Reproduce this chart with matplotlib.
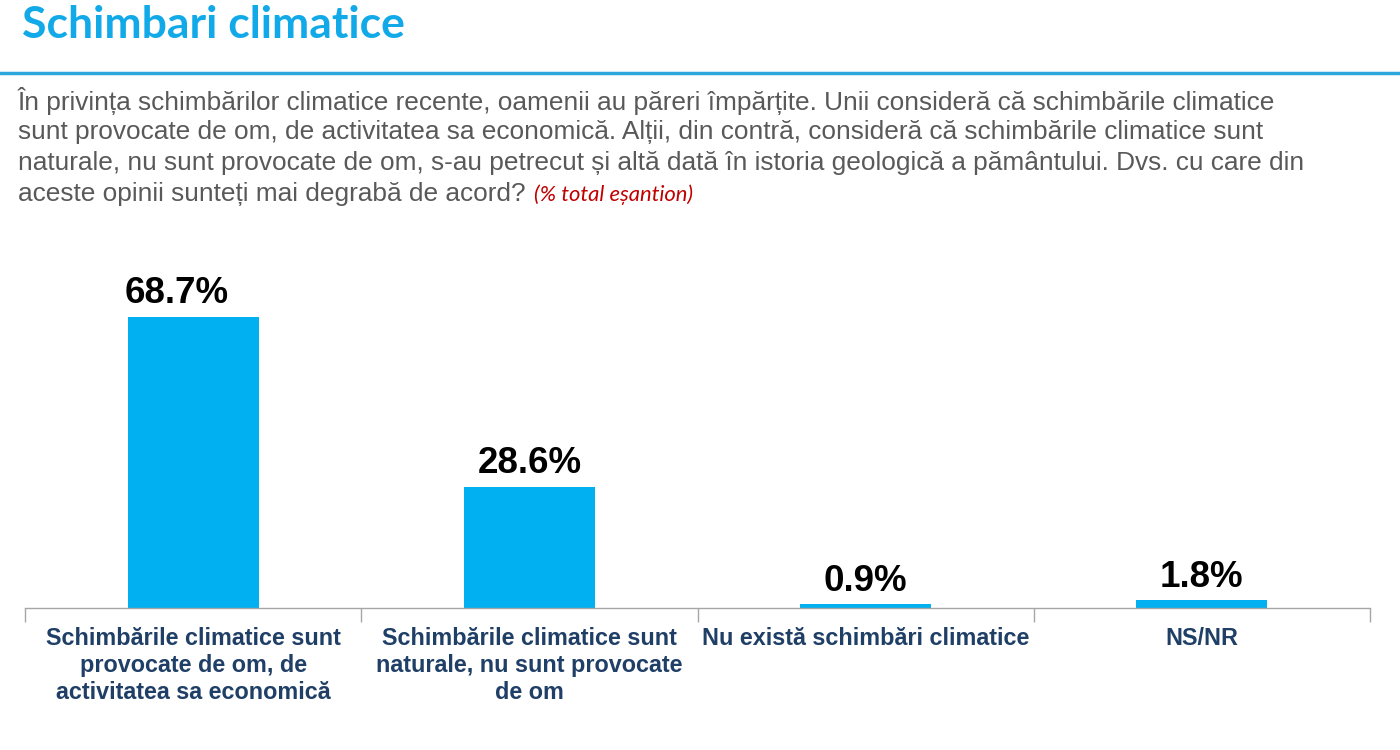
import matplotlib
matplotlib.use("Agg")
import matplotlib.pyplot as plt

categories = [
    "Schimbările climatice sunt\nprovocate de om, de\nactivitatea sa economică",
    "Schimbările climatice sunt\nnaturale, nu sunt provocate\nde om",
    "Nu există schimbări climatice",
    "NS/NR",
]
values = [68.7, 28.6, 0.9, 1.8]
value_labels = ["68.7%", "28.6%", "0.9%", "1.8%"]

title = "Schimbari climatice"
question_lines = [
    "În privința schimbărilor climatice recente, oamenii au păreri împărțite. Unii consideră că schimbările climatice",
    "sunt provocate de om, de activitatea sa economică. Alții, din contră, consideră că schimbările climatice sunt",
    "naturale, nu sunt provocate de om, s-au petrecut și altă dată în istoria geologică a pământului. Dvs. cu care din",
    "aceste opinii sunteți mai degrabă de acord?",
]
note = "(% total eșantion)"

blue = "#00B0F0"
navy = "#1F3F66"

fig = plt.figure(figsize=(14, 7.5), dpi=100)

# header
fig.text(22 / 1400, 1 - 25 / 750, title, fontsize=32, fontweight="bold",
         color="#12A9E8", family="Lato", va="center", ha="left")
fig.add_artist(plt.Line2D([0, 1], [1 - 73 / 750, 1 - 73 / 750], color="#2EA8DC", lw=2.5))
for i, line in enumerate(question_lines):
    fig.text(18 / 1400, 1 - (101 + 31 * i) / 750, line, fontsize=18.9, color="#595959",
             family="Liberation Sans", va="center", ha="left")
fig.text(534 / 1400, 1 - 195 / 750, note, fontsize=15.8, color="#C00000",
         family="Lato", style="italic", va="center", ha="left")

# chart
ax = fig.add_axes([25 / 1400, 142 / 750, 1345 / 1400, 339 / 750])
x = range(len(values))
ax.bar(x, values, width=0.39, color=blue)
ax.set_xlim(-0.5, len(values) - 0.5)
ax.set_ylim(0, 80)

# first label sits a bit left of its bar in the original
label_dx = [-12, 0, 0, 0]
for xi, v, lab, dx in zip(x, values, value_labels, label_dx):
    ax.annotate(lab, (xi, v), xytext=(dx, 4), textcoords="offset points",
                ha="center", va="bottom", fontsize=26.5, fontweight="bold",
                family="Liberation Sans", color="black")

for s in ["top", "left", "right"]:
    ax.spines[s].set_visible(False)
ax.spines["bottom"].set_color("#A6A6A6")
ax.spines["bottom"].set_linewidth(1)
ax.set_yticks([])

# category boundaries as ticks
ax.set_xticks([i - 0.5 for i in range(len(values) + 1)])
ax.set_xticklabels([])
ax.tick_params(axis="x", length=10, color="#A6A6A6", width=1)

for xi, cat in zip(x, categories):
    ax.text(xi, -4.4, cat, ha="center", va="top", fontsize=16.8, fontweight="bold",
            family="Liberation Sans", color=navy, linespacing=1.22,
            transform=ax.transData, clip_on=False)

fig.savefig("out.png", dpi=100)
